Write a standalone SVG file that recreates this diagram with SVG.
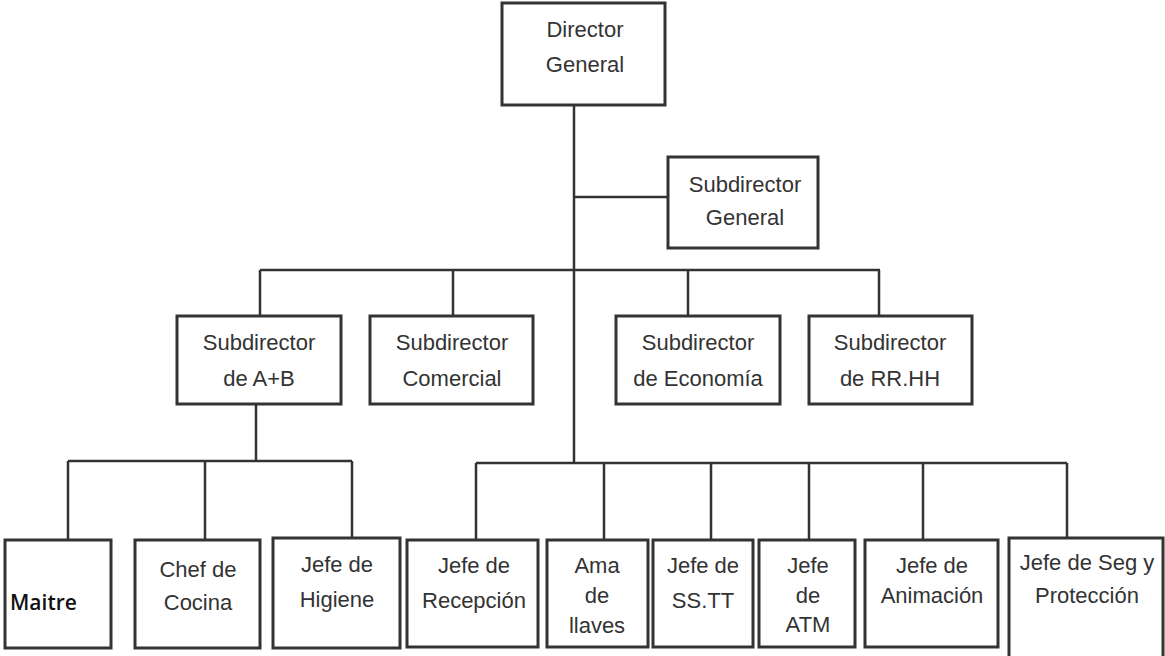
<svg xmlns="http://www.w3.org/2000/svg" width="1165" height="656" viewBox="0 0 1165 656">
<style>
.b{fill:#fff;stroke:#333;stroke-width:3}
.c{fill:none;stroke:#333;stroke-width:2.5}
text{font-family:"Liberation Sans",Arial,sans-serif;font-size:22px;fill:#333;text-anchor:middle}
.m{font-family:"Open Sans","Liberation Sans",sans-serif;font-size:21px;fill:#111;text-anchor:start;font-weight:600}
</style>
<rect width="1165" height="656" fill="#fff"/>
<g id="connectors" class="c">
<path d="M574 105V463"/>
<path d="M574 197H668"/>
<path d="M260 270H880M260 270V316M453 270V316M688 270V316M879 270V316"/>
<path d="M256 404V461M68 461H352M68 461V540M205 461V540M352 461V538"/>
<path d="M476 463H1067M476 463V540M604 463V540M711 463V540M809 463V540M923 463V540M1067 463V538"/>
</g>
<g id="director-general"><rect class="b" x="502" y="3" width="163" height="102"/><text x="585" y="37">Director</text><text x="585" y="72">General</text></g>
<g id="subdirector-general"><rect class="b" x="668" y="157" width="150" height="91"/><text x="745" y="192">Subdirector</text><text x="745" y="225">General</text></g>
<g id="sub-ab"><rect class="b" x="177" y="316" width="164" height="88"/><text x="259" y="350">Subdirector</text><text x="259" y="386">de A+B</text></g>
<g id="sub-comercial"><rect class="b" x="370" y="316" width="163" height="88"/><text x="452" y="350">Subdirector</text><text x="452" y="386">Comercial</text></g>
<g id="sub-economia"><rect class="b" x="616" y="316" width="164" height="88"/><text x="698" y="350">Subdirector</text><text x="698" y="386">de Economía</text></g>
<g id="sub-rrhh"><rect class="b" x="809" y="316" width="163" height="88"/><text x="890" y="350">Subdirector</text><text x="890" y="386">de RR.HH</text></g>
<g id="maitre"><rect class="b" x="5" y="540" width="106" height="108"/><text class="m" x="10" y="610">Maitre</text></g>
<g id="chef-cocina"><rect class="b" x="135" y="540" width="125" height="108"/><text x="198" y="577">Chef de</text><text x="198" y="610">Cocina</text></g>
<g id="jefe-higiene"><rect class="b" x="273" y="538" width="127" height="110"/><text x="337" y="572">Jefe de</text><text x="337" y="607">Higiene</text></g>
<g id="jefe-recepcion"><rect class="b" x="407" y="540" width="131" height="107"/><text x="474" y="573">Jefe de</text><text x="474" y="608">Recepción</text></g>
<g id="ama-llaves"><rect class="b" x="547" y="540" width="101" height="107"/><text x="597" y="573">Ama</text><text x="597" y="603">de</text><text x="597" y="633">llaves</text></g>
<g id="jefe-sstt"><rect class="b" x="653" y="540" width="100" height="107"/><text x="703" y="573">Jefe de</text><text x="703" y="608">SS.TT</text></g>
<g id="jefe-atm"><rect class="b" x="759" y="540" width="96" height="107"/><text x="808" y="573">Jefe</text><text x="808" y="603">de</text><text x="808" y="632">ATM</text></g>
<g id="jefe-animacion"><rect class="b" x="865" y="540" width="133" height="107"/><text x="932" y="573">Jefe de</text><text x="932" y="603">Animación</text></g>
<g id="jefe-seguridad"><rect class="b" x="1009" y="538" width="154" height="125"/><text x="1087" y="570">Jefe de Seg y</text><text x="1087" y="603">Protección</text></g>
</svg>
